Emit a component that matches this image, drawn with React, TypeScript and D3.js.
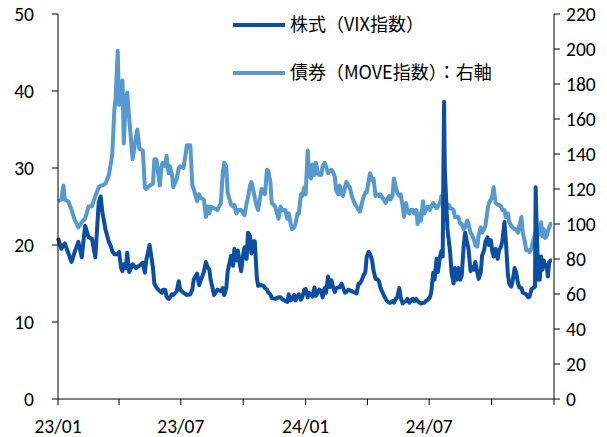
import React from "react";
import * as d3 from "d3";

// observation dates (shared by both series)
const dates = [
  "2023-01-01","2023-01-06","2023-01-09","2023-01-11","2023-01-16","2023-01-21","2023-01-26","2023-01-31","2023-02-05","2023-02-10",
  "2023-02-15","2023-02-20","2023-02-25","2023-03-02","2023-03-05","2023-03-07","2023-03-12","2023-03-17","2023-03-20","2023-03-22",
  "2023-03-25","2023-03-27","2023-03-30","2023-04-01","2023-04-04","2023-04-06","2023-04-08","2023-04-11","2023-04-13","2023-04-16",
  "2023-04-21","2023-04-26","2023-04-28","2023-05-01","2023-05-06","2023-05-09","2023-05-11","2023-05-16","2023-05-21","2023-05-23",
  "2023-05-26","2023-05-31","2023-06-03","2023-06-05","2023-06-08","2023-06-10","2023-06-13","2023-06-15","2023-06-18","2023-06-20",
  "2023-06-25","2023-06-28","2023-06-30","2023-07-05","2023-07-10","2023-07-15","2023-07-18","2023-07-20","2023-07-25","2023-07-28",
  "2023-07-30","2023-08-04","2023-08-07","2023-08-09","2023-08-12","2023-08-14","2023-08-19","2023-08-24","2023-08-29","2023-09-01",
  "2023-09-03","2023-09-06","2023-09-08","2023-09-13","2023-09-16","2023-09-18","2023-09-21","2023-09-23","2023-09-26","2023-09-28",
  "2023-10-01","2023-10-03","2023-10-06","2023-10-08","2023-10-11","2023-10-13","2023-10-16","2023-10-18","2023-10-21","2023-10-23",
  "2023-10-28","2023-10-31","2023-11-02","2023-11-05","2023-11-07","2023-11-10","2023-11-12","2023-11-17","2023-11-22","2023-11-25",
  "2023-11-27","2023-12-02","2023-12-05","2023-12-07","2023-12-10","2023-12-12","2023-12-15","2023-12-17","2023-12-20","2023-12-22",
  "2023-12-25","2023-12-27","2023-12-30","2024-01-01","2024-01-04","2024-01-06","2024-01-09","2024-01-11","2024-01-14","2024-01-16",
  "2024-01-19","2024-01-21","2024-01-24","2024-01-26","2024-01-29","2024-01-31","2024-02-03","2024-02-05","2024-02-08","2024-02-10",
  "2024-02-13","2024-02-15","2024-02-18","2024-02-20","2024-02-23","2024-02-25","2024-02-28","2024-03-01","2024-03-04","2024-03-06",
  "2024-03-09","2024-03-11","2024-03-14","2024-03-16","2024-03-19","2024-03-21","2024-03-24","2024-03-26","2024-03-29","2024-03-31",
  "2024-04-03","2024-04-05","2024-04-08","2024-04-10","2024-04-13","2024-04-15","2024-04-18","2024-04-20","2024-04-23","2024-04-25",
  "2024-04-28","2024-04-30","2024-05-03","2024-05-05","2024-05-08","2024-05-10","2024-05-13","2024-05-15","2024-05-18","2024-05-20",
  "2024-05-23","2024-05-25","2024-05-28","2024-05-30","2024-06-02","2024-06-04","2024-06-07","2024-06-09","2024-06-12","2024-06-14",
  "2024-06-17","2024-06-19","2024-06-22","2024-06-24","2024-06-27","2024-06-29","2024-07-02","2024-07-04","2024-07-07","2024-07-09",
  "2024-07-12","2024-07-14","2024-07-17","2024-07-19","2024-07-21","2024-07-22","2024-07-23","2024-07-24","2024-07-26","2024-07-28",
  "2024-07-30","2024-08-01","2024-08-03","2024-08-06","2024-08-08","2024-08-11","2024-08-13","2024-08-16","2024-08-18","2024-08-21",
  "2024-08-23","2024-08-26","2024-08-28","2024-08-31","2024-09-02","2024-09-05","2024-09-07","2024-09-10","2024-09-12","2024-09-15",
  "2024-09-17","2024-09-20","2024-09-22","2024-09-25","2024-09-27","2024-09-30","2024-10-02","2024-10-04","2024-10-07","2024-10-10",
  "2024-10-12","2024-10-15","2024-10-17","2024-10-20","2024-10-22","2024-10-25","2024-10-27","2024-10-30","2024-11-01","2024-11-04",
  "2024-11-06","2024-11-09","2024-11-11","2024-11-14","2024-11-16","2024-11-19","2024-11-21","2024-11-24","2024-11-26","2024-11-29",
  "2024-12-01","2024-12-04","2024-12-05","2024-12-06","2024-12-08","2024-12-09","2024-12-11","2024-12-13","2024-12-15","2024-12-17",
  "2024-12-19","2024-12-21","2024-12-23","2024-12-25","2024-12-27","2024-12-29",
];

// 株式 (VIX), left axis
const vix = [
  20.9, 19.5, 20.0, 20.2, 19.0, 17.8, 19.2, 20.4, 18.4, 22.5,
  21.0, 20.8, 18.4, 25.5, 26.3, 24.5, 22.0, 20.4, 19.8, 19.2,
  18.8, 18.8, 18.8, 19.1, 17.0, 16.6, 17.5, 17.0, 19.0, 16.5,
  17.5, 17.0, 17.2, 17.3, 17.7, 16.4, 18.0, 20.0, 17.0, 15.0,
  14.5, 14.0, 13.8, 14.2, 14.2, 13.3, 13.0, 13.2, 13.6, 13.5,
  14.0, 15.3, 14.2, 13.8, 13.5, 13.6, 14.2, 15.5, 16.3, 14.8,
  15.3, 16.5, 17.8, 17.2, 16.8, 15.5, 13.5, 14.2, 14.0, 14.4,
  13.5, 14.4, 16.5, 18.6, 17.3, 19.5, 18.0, 19.3, 17.5, 16.6,
  18.9, 19.7, 18.2, 21.6, 21.2, 18.9, 20.5, 20.5, 15.8, 14.7,
  14.8, 14.7, 14.4, 14.2, 13.8, 13.6, 13.1, 13.0, 13.2, 13.2,
  13.0, 12.7, 12.6, 13.6, 12.8, 13.0, 13.5, 12.8, 13.3, 13.6,
  12.9, 13.2, 14.2, 14.3, 13.2, 13.8, 13.5, 13.3, 14.5, 13.4,
  13.8, 14.2, 14.0, 13.2, 14.4, 13.8, 15.9, 14.5, 15.4, 14.6,
  13.9, 14.4, 14.5, 14.5, 15.0, 14.5, 13.8, 13.9, 14.2, 14.1,
  14.0, 13.9, 13.8, 13.7, 15.0, 15.0, 15.5, 16.0, 16.5, 18.5,
  19.1, 18.8, 18.0, 16.7, 15.6, 15.6, 15.3, 14.5, 13.9, 13.5,
  13.0, 12.7, 12.5, 12.5, 12.7, 12.5, 13.0, 13.2, 14.4, 13.2,
  12.4, 12.6, 12.7, 13.0, 12.5, 12.8, 13.0, 12.7, 13.0, 12.7,
  12.5, 12.4, 12.5, 12.5, 12.8, 12.9, 13.2, 13.8, 16.4, 15.5,
  18.2, 16.5, 18.5, 19.2, 18.5, 30.0, 38.6, 30.0, 26.0, 22.0,
  20.6, 19.0, 16.4, 15.0, 17.0, 15.5, 17.0, 15.5, 16.0, 20.0,
  21.6, 20.3, 19.5, 16.6, 17.2, 16.8, 17.8, 16.4, 15.6, 16.4,
  18.6, 19.3, 20.4, 21.0, 20.0, 20.6, 19.2, 18.5, 19.5, 18.2,
  19.3, 19.8, 20.6, 23.0, 20.6, 16.2, 15.0, 14.6, 15.3, 17.0,
  16.5, 15.0, 14.5, 14.4, 13.8, 13.7, 13.6, 13.2, 13.3, 14.3,
  14.4, 14.6, 27.5, 24.0, 18.0, 15.5, 15.5, 18.5, 16.8, 18.0,
  17.3, 17.4, 15.9, 17.8, 18.0, 18.0,
];

// 債券 (MOVE), right axis
const move = [
  113, 114, 122, 114, 113, 108, 102, 98, 101, 103,
  110, 110, 116, 121, 122, 122, 123, 128, 135, 140,
  165, 172, 199, 168, 175, 182, 146, 172, 175, 160,
  137, 150, 154, 143, 142, 121, 120, 122, 123, 137,
  137, 122, 134, 135, 133, 139, 129, 133, 128, 121,
  126, 132, 133, 132, 145, 145, 122, 120, 113, 117,
  115, 114, 104, 110, 106, 110, 109, 108, 112, 130,
  135, 133, 118, 111, 110, 111, 106, 108, 108, 108,
  106, 105, 112, 115, 122, 124, 119, 115, 110, 108,
  120, 118, 117, 131, 130, 124, 112, 110, 103, 110,
  108, 108, 103, 106, 100, 97, 98, 100, 106, 106,
  117, 116, 121, 117, 142, 128, 126, 134, 128, 135,
  129, 128, 128, 133, 135, 133, 129, 130, 131, 130,
  127, 119, 117, 122, 117, 116, 121, 124, 122, 121,
  116, 114, 111, 110, 108, 107, 112, 115, 118, 118,
  125, 129, 125, 126, 116, 117, 116, 117, 115, 114,
  112, 114, 116, 114, 116, 126, 121, 118, 116, 117,
  110, 104, 112, 107, 106, 108, 108, 106, 108, 100,
  106, 102, 113, 106, 109, 110, 108, 110, 112, 111,
  109, 110, 112, 116, 112, 110, 115, 112, 110, 109,
  111, 109, 109, 108, 104, 104, 104, 100, 100, 97,
  98, 102, 100, 95, 94, 91, 88, 87, 94, 98,
  95, 97, 99, 108, 112, 114, 116, 121, 112, 111,
  111, 110, 108, 108, 104, 106, 101, 99, 98, 97,
  97, 95, 99, 104, 95, 90, 85, 85, 84, 86,
  90, 94, 95, 96, 97, 95, 94, 101, 93, 97,
  92, 93, 96, 98, 100, 100,
];

const leftTicks = [0, 10, 20, 30, 40, 50];
const rightTicks = [0, 20, 40, 60, 80, 100, 120, 140, 160, 180, 200, 220];
const xTicks = ["2023-01-01", "2023-04-01", "2023-07-01", "2023-10-01", "2024-01-01", "2024-04-01", "2024-07-01", "2024-10-01", "2025-01-01"];
const xLabels = ["2023-01-01", "2023-07-01", "2024-01-01", "2024-07-01"];
const seriesNames = ["株式（VIX指数）", "債券（MOVE指数）：右軸"];

const W = 607;
const H = 437;
const margin = { top: 14, right: 53, bottom: 38, left: 58 };
const darkBlue = "#0b4ea2";
const lightBlue = "#5599cf";
const tickFont = "Carlito, Lato, 'Liberation Sans', sans-serif";
const jpFont = "'Noto Sans CJK JP', sans-serif";

export default function App() {
  const parse = d3.timeParse("%Y-%m-%d");
  const fmt = d3.timeFormat("%y/%m");
  const x0 = margin.left;
  const x1 = W - margin.right;
  const y0 = H - margin.bottom;
  const y1 = margin.top;

  const x = d3.scaleTime().domain([parse("2023-01-01")!, parse("2025-01-01")!]).range([x0, x1]);
  const yL = d3.scaleLinear().domain([0, 50]).range([y0, y1]);
  const yR = d3.scaleLinear().domain([0, 220]).range([y0, y1]);

  const parsed = dates.map((d) => parse(d)!);
  const vixLine = d3
    .line<number>()
    .x((_, i) => x(parsed[i]))
    .y((d) => yL(d));
  const moveLine = d3
    .line<number>()
    .x((_, i) => x(parsed[i]))
    .y((d) => yR(d));

  return (
    <svg width={W} height={H} style={{ position: "absolute", left: 0, top: 0, background: "#fff" }}>
      {/* series: MOVE under VIX */}
      <path d={moveLine(move) || ""} fill="none" stroke={lightBlue} strokeWidth={4} strokeLinejoin="round" />
      <path d={vixLine(vix) || ""} fill="none" stroke={darkBlue} strokeWidth={4} strokeLinejoin="round" />

      {/* left axis */}
      <line x1={x0} x2={x0} y1={y1} y2={y0} stroke="#000" strokeWidth={1} />
      {leftTicks.map((t) => (
        <g key={"l" + t}>
          <line x1={x0 - 6} x2={x0} y1={yL(t)} y2={yL(t)} stroke="#000" />
          <text x={x0 - 24} y={yL(t)} dy="0.36em" textAnchor="end" fontFamily={tickFont} fontSize={19.5} fill="#000">
            {t}
          </text>
        </g>
      ))}

      {/* right axis */}
      <line x1={x1} x2={x1} y1={y1} y2={y0} stroke="#000" strokeWidth={1} />
      {rightTicks.map((t) => (
        <g key={"r" + t}>
          <line x1={x1} x2={x1 + 6} y1={yR(t)} y2={yR(t)} stroke="#000" />
          <text x={x1 + 12} y={yR(t)} dy="0.36em" textAnchor="start" fontFamily={tickFont} fontSize={19.5} fill="#000">
            {t}
          </text>
        </g>
      ))}

      {/* bottom axis */}
      <line x1={x0} x2={x1} y1={y0} y2={y0} stroke="#000" strokeWidth={1} />
      {xTicks.map((t) => (
        <line key={"x" + t} x1={x(parse(t)!)} x2={x(parse(t)!)} y1={y0} y2={y0 + 6} stroke="#000" />
      ))}
      {xLabels.map((t) => (
        <text key={"xl" + t} x={x(parse(t)!)} y={y0 + 27} dy="0.36em" textAnchor="middle" fontFamily={tickFont} fontSize={19.5} fill="#000">
          {fmt(parse(t)!)}
        </text>
      ))}

      {/* legend */}
      {seriesNames.map((name, i) => (
        <g key={name} transform={`translate(233, ${25 + i * 48})`}>
          <line x1={0} x2={52} y1={0} y2={0} stroke={i === 0 ? darkBlue : lightBlue} strokeWidth={4} />
          <text x={57} y={0} dy="0.36em" fontFamily={jpFont} fontSize={18} fill="#000">
            {name}
          </text>
        </g>
      ))}
    </svg>
  );
}
